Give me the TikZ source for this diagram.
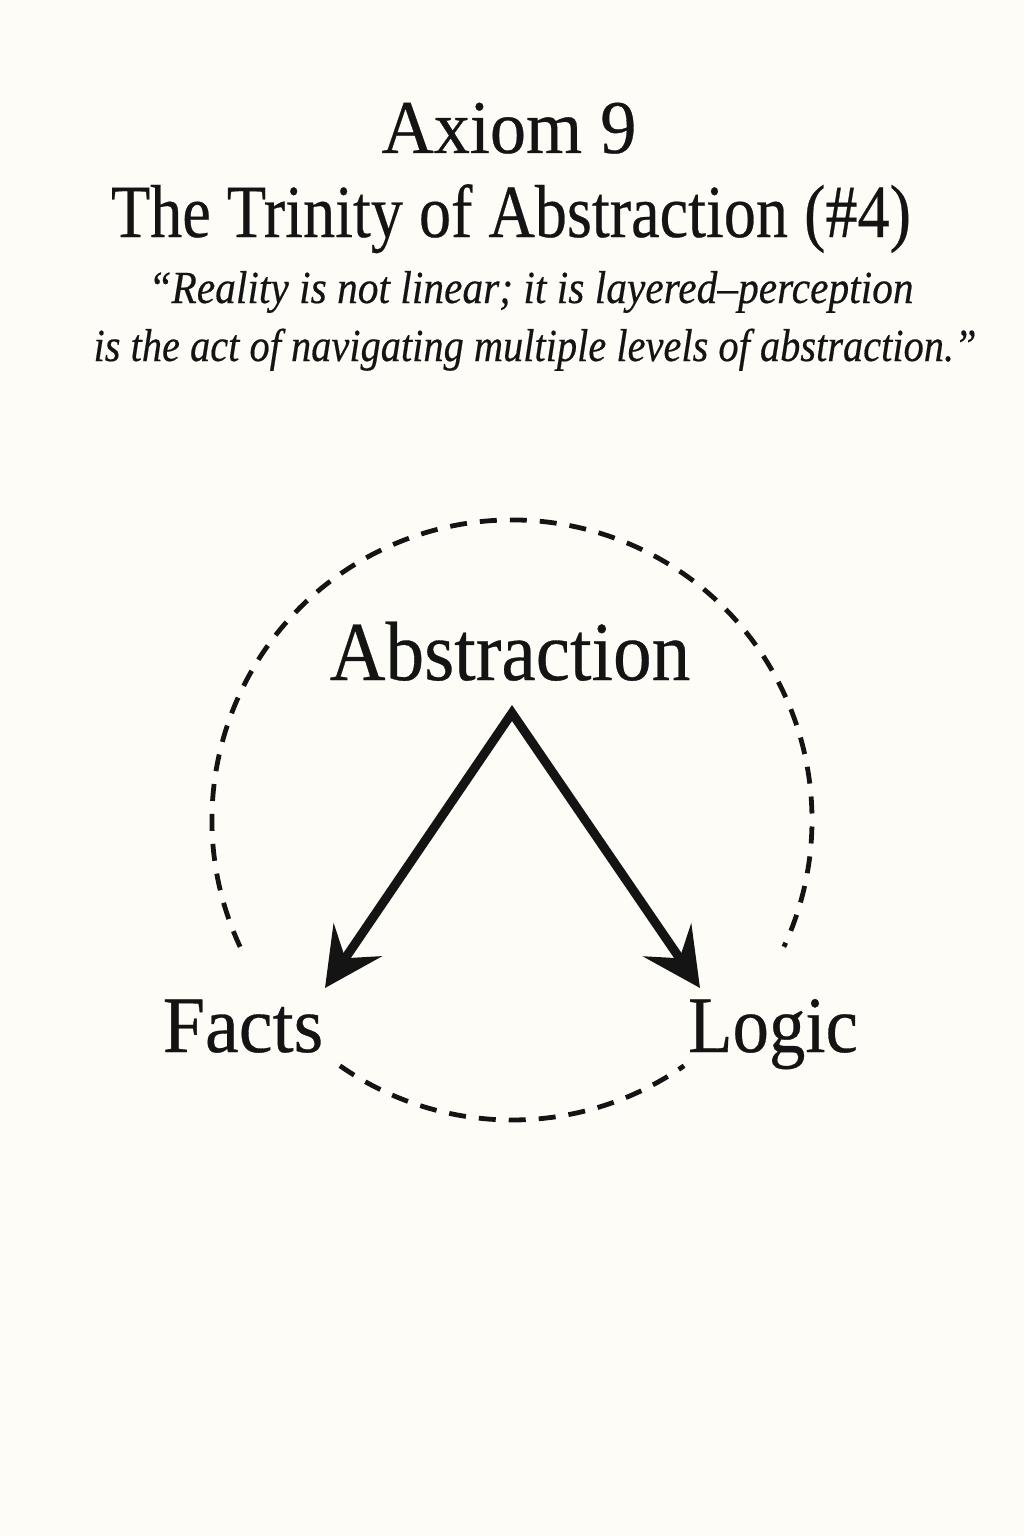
\documentclass[tikz,border=0pt]{standalone}
\usepackage{fontspec}
\usepackage{graphicx}
\setmainfont{Liberation Serif}[FakeBold=0.4]
\usetikzlibrary{arrows.meta}
\definecolor{bg}{HTML}{FDFCF7}
\definecolor{ink}{HTML}{141414}
\begin{document}
\begin{tikzpicture}[x=0.5pt,y=-0.5pt,
  txt/.style={anchor=base, inner sep=0pt, text=ink},
  ring/.style={draw=ink, line width=2.4pt, dash pattern=on 8.5pt off 6.5pt},
  tip/.style={},
  arr/.style={draw=ink, line width=4.5pt, line join=miter}]
\fill[bg] (0,0) rectangle (1024,1536);
\useasboundingbox (0,0) rectangle (1024,1536);
% titles
\node[txt, font=\fontsize{38}{40}\selectfont] (ax) at (509,153) {\scalebox{0.95}[1]{Axiom 9}};
\node[txt, font=\fontsize{37.5}{40}\selectfont] (tt) at (511,237) {\scalebox{0.856}[1]{The Trinity of Abstraction (\#4)}};
\node[txt, font=\fontsize{23}{26}\itshape] (q1) at (531,303) {\scalebox{0.9}[1]{“Reality is not linear; it is layered–perception}};
\node[txt, font=\fontsize{23}{26}\itshape] (q2) at (535,361) {\scalebox{0.878}[1]{is the act of navigating multiple levels of abstraction.”}};
% diagram
\coordinate (cc) at (512,820);
\draw[ring] (cc) ++(155:300) arc[start angle=155, end angle=385, radius=300];
\draw[ring] (cc) ++(125:300) arc[start angle=125, end angle=55, radius=300];
\node[txt, font=\fontsize{42}{44}\selectfont] (abs) at (510,680) {\scalebox{0.92}[1]{Abstraction}};
\node[txt, font=\fontsize{40}{42}\selectfont] (facts) at (243,1052) {\scalebox{0.95}[1]{Facts}};
\node[txt, font=\fontsize{40}{42}\selectfont] (logic) at (773,1052) {\scalebox{0.91}[1]{Logic}};
\coordinate (apex) at (512,713);
\coordinate (ftip) at (325,988);
\coordinate (ltip) at (700,988);
\draw[arr, {Stealth[length=29pt, width=29pt, inset=11pt]}-{Stealth[length=29pt, width=29pt, inset=11pt]}] (ftip) -- (apex) -- (ltip);
\end{tikzpicture}
\end{document}
